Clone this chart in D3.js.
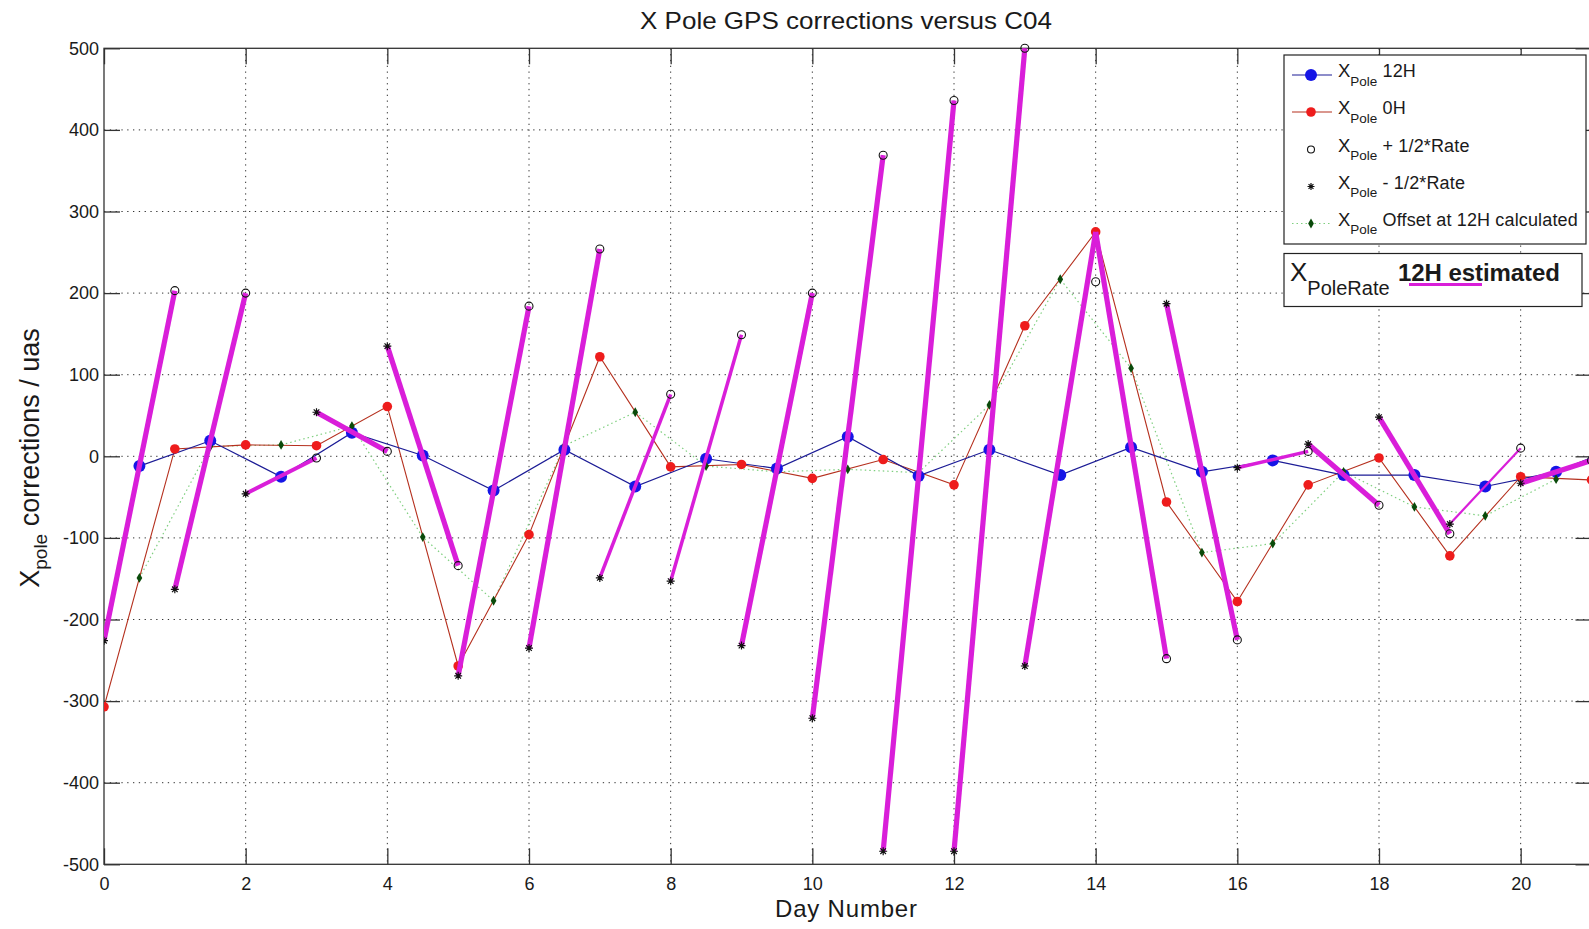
<!DOCTYPE html>
<html>
<head>
<meta charset="utf-8">
<script src="https://cdn.jsdelivr.net/npm/d3@7"></script>
<style>
  html, body { margin: 0; padding: 0; background: #fff; }
  svg { display: block; }
  text { font-family: "Liberation Sans", Arial, sans-serif; fill: #1a1a1a; }
</style>
</head>
<body>
<svg id="chart" width="1589" height="929"></svg>
<script>
// ---------------- data ----------------
const chartTitle = "X Pole GPS corrections versus C04";
const xTicks = [0, 2, 4, 6, 8, 10, 12, 14, 16, 18, 20];
const yTicks = [-500, -400, -300, -200, -100, 0, 100, 200, 300, 400, 500];

// X Pole 12H (half days)
const days12H = [0.5,1.5,2.5,3.5,4.5,5.5,6.5,7.5,8.5,9.5,10.5,11.5,12.5,13.5,14.5,15.5,16.5,17.5,18.5,19.5,20.5,21.5];
const xpole12H = [-12, 19, -25, 29, 1, -42, 8, -37, -3, -15, 24, -24, 8, -23, 11, -19, -5, -23, -23, -37, -19, 16];

// X Pole 0H (integer days)
const days0H = [0,1,2,3,4,5,6,7,8,9,10,11,12,13,14,15,16,17,18,19,20,21];
const xpole0H = [-307, 9, 14, 13, 61, -257, -96, 122, -13, -10, -27, -4, -35, 160, 275, -56, -178, -35, -2, -122, -25, -29];

// X Pole offset at 12H calculated (half days)
const daysOffset = [0.5,1.5,2.5,3.5,4.5,5.5,6.5,7.5,8.5,9.5,10.5,11.5,12.5,13.5,14.5,15.5,16.5,17.5,18.5,19.5,20.5];
const offset12H = [-149, 12, 14, 37, -99, -177, 13, 54, -12, -19, -16, -20, 63, 217, 108, -118, -107, -19, -62, -73, -28];

// X Pole - 1/2*Rate (start of each day), X Pole + 1/2*Rate (end of each day)
const daysMinus = [0,1,2,3,4,5,6,7,8,9,10,11,12,13,14,15,16,17,18,19,20];
const minusHalfRate = [-226, -163, -46, 54, 135, -269, -235, -149, -153, -232, -321, -484, -484, -257, null, 187, -14, 15, 48, -83, -33];
const daysPlus = [1,2,3,4,5,6,7,8,9,10,11,12,13,14,15,16,17,18,19,20,21];
const plusHalfRate = [203, 200, -2, 6, -134, 184, 254, 76, 149, 200, 369, 436, 500, 214, -248, -225, 6, -60, -95, 10, -5];

// X PoleRate 12H estimated: segment from day d (start value) to day d+1 (end value)
const rateDayStart = [0,1,2,3,4,5,6,7,8,9,10,11,12,13,14,15,16,17,18,19,20];
const rateStartVal = [-226, -163, -46, 54, 135, -269, -235, -149, -153, -232, -321, -484, -484, -257, 275, 187, -14, 15, 48, -83, -33];
const rateEndVal   = [203, 200, -2, 6, -134, 184, 254, 76, 149, 200, 369, 436, 500, 275, -248, -225, 6, -60, -95, 10, -5];

// ---------------- layout ----------------
const svg = d3.select("#chart");
const X0 = 104, X1 = 1591.5, Y0 = 48.3, Y1 = 864.3;
const x = d3.scaleLinear().domain([0, 21]).range([X0, X1]);
const y = d3.scaleLinear().domain([-500, 500]).range([Y1, Y0]);

const MAG = "#d91ed9";
const thinSeg = new Map([[2, 4], [7, 3.5], [8, 3.5], [16, 3.5], [19, 2.2]]);

svg.append("defs").append("clipPath").attr("id", "plotclip")
  .append("rect").attr("x", X0).attr("y", Y0 - 6).attr("width", X1 - X0).attr("height", Y1 - Y0 + 12);

// grid
const grid = svg.append("g").attr("stroke", "#333").attr("stroke-width", 1).attr("stroke-dasharray", "1.3,4.5");
grid.selectAll("line.gx").data(xTicks.filter(t => t > 0)).join("line")
  .attr("x1", d => x(d)).attr("x2", d => x(d)).attr("y1", Y0).attr("y2", Y1);
grid.selectAll("line.gy").data(yTicks.filter(t => t > -500 && t < 500)).join("line")
  .attr("x1", X0).attr("x2", X1).attr("y1", d => y(d)).attr("y2", d => y(d));

// axes (ticks inside)
const TS = 16;
const fmtNone = () => "";
const fmtTick = d => String(d); // plain hyphen-minus like the reference
const axB = svg.append("g").attr("transform", `translate(0,${Y1})`)
  .call(d3.axisBottom(x).tickValues(xTicks).tickSizeInner(-TS).tickSizeOuter(0).tickPadding(12.5).tickFormat(fmtTick));
const axL = svg.append("g").attr("transform", `translate(${X0},0)`)
  .call(d3.axisLeft(y).tickValues(yTicks).tickSizeInner(-TS).tickSizeOuter(0).tickPadding(5).tickFormat(fmtTick));
const axT = svg.append("g").attr("transform", `translate(0,${Y0})`)
  .call(d3.axisTop(x).tickValues(xTicks).tickSizeInner(-TS).tickSizeOuter(0).tickFormat(fmtNone));
const axR = svg.append("g").attr("transform", `translate(${X1},0)`)
  .call(d3.axisRight(y).tickValues(yTicks).tickSizeInner(-TS).tickSizeOuter(0).tickFormat(fmtNone));
[axB, axL, axT, axR].forEach(a => {
  a.select(".domain").remove();
  a.selectAll(".tick line").attr("stroke", "#333").attr("stroke-width", 1.3);
  a.selectAll("text").attr("font-size", 18).attr("fill", "#2a2a2a")
    .style("font-family", '"Liberation Sans", Arial, sans-serif');
});
svg.append("rect").attr("x", X0).attr("y", Y0).attr("width", X1 - X0).attr("height", Y1 - Y0)
  .attr("fill", "none").attr("stroke", "#333").attr("stroke-width", 1.3);

const plot = svg.append("g").attr("clip-path", "url(#plotclip)");

// offset (green dotted)
const offPts = daysOffset.map((d, i) => [d, offset12H[i]]);
plot.append("path").datum(offPts)
  .attr("d", d3.line().x(d => x(d[0])).y(d => y(d[1])))
  .attr("fill", "none").attr("stroke", "#7fcf7f").attr("stroke-width", 1.2).attr("stroke-dasharray", "1.5,3");

// 0H red
const redPts = days0H.map((d, i) => [d, xpole0H[i]]);
plot.append("path").datum(redPts)
  .attr("d", d3.line().x(d => x(d[0])).y(d => y(d[1])))
  .attr("fill", "none").attr("stroke", "#b5301e").attr("stroke-width", 1.1);

// 12H blue
const bluePts = days12H.map((d, i) => [d, xpole12H[i]]);
plot.append("path").datum(bluePts)
  .attr("d", d3.line().x(d => x(d[0])).y(d => y(d[1])))
  .attr("fill", "none").attr("stroke", "#1c1c96").attr("stroke-width", 1.2);

// markers for red, blue and green
plot.selectAll("circle.red").data(redPts).join("circle")
  .attr("cx", d => x(d[0])).attr("cy", d => y(d[1])).attr("r", 4.8).attr("fill", "#ee1c1c");
plot.selectAll("circle.blue").data(bluePts).join("circle")
  .attr("cx", d => x(d[0])).attr("cy", d => y(d[1])).attr("r", 6).attr("fill", "#1515e6");
plot.selectAll("path.dia").data(offPts).join("path")
  .attr("transform", d => `translate(${x(d[0])},${y(d[1])})`)
  .attr("d", d3.symbol(d3.symbolDiamond, 28)()).attr("fill", "#0a4a0a");

// magenta rate segments
plot.selectAll("line.rate").data(rateDayStart.map((d, i) => ({ i, d, s: rateStartVal[i], e: rateEndVal[i] }))).join("line")
  .attr("x1", o => x(o.d)).attr("y1", o => y(o.s))
  .attr("x2", o => x(o.d + 1)).attr("y2", o => y(o.e))
  .attr("stroke", MAG).attr("stroke-width", o => thinSeg.has(o.i) ? thinSeg.get(o.i) : 5.2)
  .attr("stroke-linecap", "butt");

// + 1/2 rate open circles
const plusPts = daysPlus.map((d, i) => [d, plusHalfRate[i]]);
plot.selectAll("circle.plus").data(plusPts).join("circle")
  .attr("cx", d => x(d[0])).attr("cy", d => y(d[1])).attr("r", 4)
  .attr("fill", "none").attr("stroke", "#111").attr("stroke-width", 1.1);

// - 1/2 rate asterisks
const asterisk = (g, s) => {
  const a = s, b = s * 0.7;
  g.append("path").attr("d", `M${-a},0H${a}M0,${-a}V${a}M${-b},${-b}L${b},${b}M${-b},${b}L${b},${-b}`)
    .attr("stroke", "#111").attr("stroke-width", 1.2).attr("fill", "none");
};
const minusPts = daysMinus.map((d, i) => [d, minusHalfRate[i]]).filter(p => p[1] !== null);
plot.selectAll("g.minus").data(minusPts).join("g")
  .attr("transform", d => `translate(${x(d[0])},${y(d[1])})`)
  .each(function () { asterisk(d3.select(this), 4); });

// ---------------- texts ----------------
svg.append("text").attr("x", 846).attr("y", 28.5).attr("text-anchor", "middle")
  .attr("font-size", 24).attr("textLength", 412).attr("lengthAdjust", "spacingAndGlyphs").text(chartTitle);

svg.append("text").attr("x", 846).attr("y", 917).attr("text-anchor", "middle")
  .attr("font-size", 24).attr("textLength", 142).attr("lengthAdjust", "spacing").text("Day Number");

const yl = svg.append("text").attr("transform", "translate(39,458) rotate(-90)")
  .attr("text-anchor", "middle").attr("font-size", 27);
yl.append("tspan").text("X");
yl.append("tspan").attr("font-size", 19).attr("dy", 8).text("pole");
yl.append("tspan").attr("dy", -8).text(" corrections / uas");

// ---------------- legend ----------------
const lg = svg.append("g");
lg.append("rect").attr("x", 1284).attr("y", 55).attr("width", 302).attr("height", 189)
  .attr("fill", "#fff").attr("stroke", "#222").attr("stroke-width", 1.2);
const rowsY = [75, 112, 149.5, 186.5, 223.5];
const legendTexts = [" 12H", " 0H", " + 1/2*Rate", " - 1/2*Rate", " Offset at 12H calculated"];
const LX1 = 1292, LX2 = 1332, LM = 1311;
// row 1 blue
lg.append("line").attr("x1", LX1).attr("x2", LX2).attr("y1", rowsY[0]).attr("y2", rowsY[0]).attr("stroke", "#1c1c96").attr("stroke-width", 1.2);
lg.append("circle").attr("cx", LM).attr("cy", rowsY[0]).attr("r", 6).attr("fill", "#1515e6");
// row 2 red
lg.append("line").attr("x1", LX1).attr("x2", LX2).attr("y1", rowsY[1]).attr("y2", rowsY[1]).attr("stroke", "#b5301e").attr("stroke-width", 1.1);
lg.append("circle").attr("cx", LM).attr("cy", rowsY[1]).attr("r", 4.8).attr("fill", "#ee1c1c");
// row 3 open circle
lg.append("circle").attr("cx", LM).attr("cy", rowsY[2]).attr("r", 3.5).attr("fill", "none").attr("stroke", "#111").attr("stroke-width", 1.1);
// row 4 asterisk
asterisk(lg.append("g").attr("transform", `translate(${LM},${rowsY[3]})`), 3.5);
// row 5 green dotted
lg.append("line").attr("x1", LX1).attr("x2", LX2).attr("y1", rowsY[4]).attr("y2", rowsY[4]).attr("stroke", "#7fcf7f").attr("stroke-width", 1.2).attr("stroke-dasharray", "1.5,3");
lg.append("path").attr("transform", `translate(${LM},${rowsY[4]})`).attr("d", d3.symbol(d3.symbolDiamond, 28)()).attr("fill", "#0a4a0a");

rowsY.forEach((ry, i) => {
  const t = lg.append("text").attr("x", 1338).attr("y", ry + 2).attr("font-size", 18.5);
  t.append("tspan").text("X");
  t.append("tspan").attr("font-size", 13.5).attr("dy", 8.5).text("Pole");
  t.append("tspan").attr("dy", -8.5).attr("font-size", 18).attr("letter-spacing", 0.15).text(legendTexts[i]);
});

// second legend box
lg.append("rect").attr("x", 1284).attr("y", 253.5).attr("width", 298).attr("height", 53)
  .attr("fill", "#fff").attr("stroke", "#222").attr("stroke-width", 1.2);
const t2 = lg.append("text").attr("x", 1290).attr("y", 281).attr("font-size", 26);
t2.append("tspan").text("X");
t2.append("tspan").attr("font-size", 20).attr("dy", 14).text("PoleRate");
lg.append("text").attr("x", 1398).attr("y", 281).attr("font-size", 24).attr("font-weight", "bold")
  .attr("textLength", 162).attr("lengthAdjust", "spacing").text("12H estimated");
lg.append("line").attr("x1", 1409).attr("x2", 1482).attr("y1", 284.5).attr("y2", 284.5).attr("stroke", MAG).attr("stroke-width", 3);
</script>
</body>
</html>
